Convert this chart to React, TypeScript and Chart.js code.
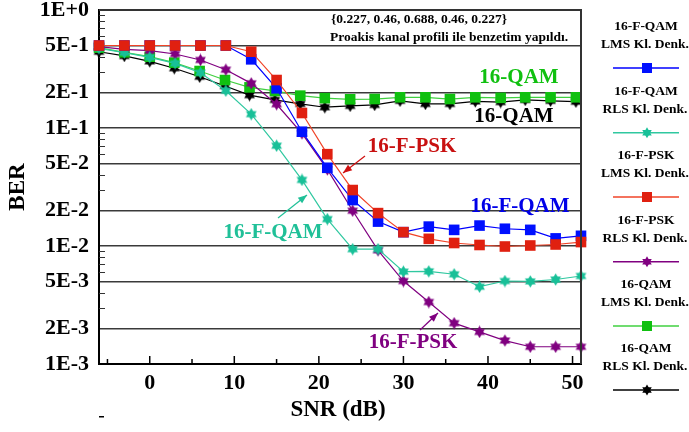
import React, { useEffect, useRef } from 'react';
import { Chart, registerables } from 'chart.js';
Chart.register(...registerables);

const snrA = [-6, -3, 0, 3, 6, 9, 12, 15, 18, 21, 24, 27, 30, 33, 36, 39, 42, 45, 48, 51];
const snrB = [-6, -3, 0, 2.9, 5.9, 8.9, 11.8, 14.8, 17.8, 20.7, 23.7, 26.6, 29.6, 32.6, 35.5, 38.5, 41.5, 44.4, 47.4, 50.4];

const fqamLms = [0.5, 0.5, 0.5, 0.5, 0.5, 0.5, 0.382, 0.217, 0.093, 0.046, 0.0245, 0.0161, 0.0131, 0.0146, 0.0137, 0.0149, 0.014, 0.0137, 0.0116, 0.0122];
const fqamRls = [0.473, 0.435, 0.397, 0.353, 0.294, 0.207, 0.131, 0.0708, 0.0363, 0.0169, 0.0094, 0.0094, 0.00606, 0.0061, 0.00576, 0.00452, 0.00505, 0.00501, 0.0052, 0.00557];
const fpskLms = [0.5, 0.5, 0.5, 0.5, 0.5, 0.5, 0.443, 0.255, 0.134, 0.06, 0.0298, 0.019, 0.0131, 0.0115, 0.0106, 0.0102, 0.0099, 0.0101, 0.0103, 0.0108];
const fpskRls = [0.49, 0.464, 0.452, 0.424, 0.377, 0.312, 0.239, 0.159, 0.09, 0.0446, 0.0199, 0.0092, 0.00505, 0.00335, 0.00222, 0.00187, 0.00158, 0.0014, 0.0014, 0.0014];
const qamLms = [0.48, 0.438, 0.402, 0.358, 0.304, 0.255, 0.221, 0.206, 0.188, 0.179, 0.175, 0.176, 0.182, 0.182, 0.176, 0.182, 0.18, 0.182, 0.182, 0.182];
const qamRls = [0.443, 0.408, 0.367, 0.321, 0.272, 0.227, 0.19, 0.173, 0.16, 0.15, 0.154, 0.157, 0.17, 0.16, 0.16, 0.168, 0.166, 0.173, 0.17, 0.167];

const yTicks = [1, 0.5, 0.2, 0.1, 0.05, 0.02, 0.01, 0.005, 0.002, 0.001];
const yTickLabels = ['1E+0', '5E-1', '2E-1', '1E-1', '5E-2', '2E-2', '1E-2', '5E-3', '2E-3', '1E-3'];
const yMinorTicks = [0.9, 0.8, 0.7, 0.6, 0.4, 0.3, 0.09, 0.08, 0.07, 0.06, 0.04, 0.03, 0.009, 0.008, 0.007, 0.006, 0.004, 0.003];
const xTicks = [0, 10, 20, 30, 40, 50];
const xMinorTicks = [-5, 5, 15, 25, 35, 45];

const legendTitles = ['16-F-QAM', '16-F-QAM', '16-F-PSK', '16-F-PSK', '16-QAM', '16-QAM'];
const legendSubs = ['LMS Kl. Denk.', 'RLS Kl. Denk.', 'LMS Kl. Denk.', 'RLS Kl. Denk.', 'LMS Kl. Denk.', 'RLS Kl. Denk.'];

const SERIF = '"Liberation Serif", "Times New Roman", serif';

type Spec = { x: number[]; y: number[]; line: string; mark: string; shape: 'sq' | 'star'; order: number };
const specs: Spec[] = [
  { x: snrA, y: fqamLms, line: '#0000ff', mark: '#0010ff', shape: 'sq', order: 1 },
  { x: snrA, y: fqamRls, line: '#30c8a0', mark: '#18c098', shape: 'star', order: 2 },
  { x: snrA, y: fpskLms, line: '#f04428', mark: '#e02010', shape: 'sq', order: 0 },
  { x: snrA, y: fpskRls, line: '#800080', mark: '#800080', shape: 'star', order: 3 },
  { x: snrB, y: qamLms, line: '#40d040', mark: '#10c010', shape: 'sq', order: 4 },
  { x: snrB, y: qamRls, line: '#000000', mark: '#000000', shape: 'star', order: 5 },
];

function drawHex(ctx: CanvasRenderingContext2D, cx: number, cy: number, r: number, color: string) {
  ctx.fillStyle = color;
  for (const off of [-90, 90]) {
    ctx.beginPath();
    for (let k = 0; k < 3; k++) {
      const a = ((off + k * 120) * Math.PI) / 180;
      const px = cx + r * Math.cos(a);
      const py = cy + r * Math.sin(a);
      if (k === 0) ctx.moveTo(px, py);
      else ctx.lineTo(px, py);
    }
    ctx.closePath();
    ctx.fill();
  }
}

function hexImage(color: string) {
  const c = document.createElement('canvas');
  c.width = 13;
  c.height = 13;
  const g = c.getContext('2d')!;
  drawHex(g, 6.5, 6.5, 6.2, color);
  return c;
}

function arrow(ctx: CanvasRenderingContext2D, x1: number, y1: number, x2: number, y2: number, color: string) {
  ctx.strokeStyle = color;
  ctx.fillStyle = color;
  ctx.lineWidth = 1.2;
  ctx.beginPath();
  ctx.moveTo(x1, y1);
  ctx.lineTo(x2, y2);
  ctx.stroke();
  const a = Math.atan2(y2 - y1, x2 - x1);
  const L = 9, W = 3.5;
  ctx.beginPath();
  ctx.moveTo(x2, y2);
  ctx.lineTo(x2 - L * Math.cos(a) + W * Math.sin(a), y2 - L * Math.sin(a) - W * Math.cos(a));
  ctx.lineTo(x2 - L * Math.cos(a) - W * Math.sin(a), y2 - L * Math.sin(a) + W * Math.cos(a));
  ctx.closePath();
  ctx.fill();
}

const overlay = {
  id: 'overlay',
  afterDraw(chart: any) {
    const ctx: CanvasRenderingContext2D = chart.ctx;
    const { left, right, top, bottom } = chart.chartArea;
    const xs = chart.scales.x;
    const ys = chart.scales.y;
    ctx.save();
    // top and right frame
    ctx.strokeStyle = '#333';
    ctx.lineWidth = 2;
    ctx.beginPath();
    ctx.moveTo(left, top);
    ctx.lineTo(right, top);
    ctx.lineTo(right, bottom);
    ctx.stroke();
    // x ticks
    ctx.strokeStyle = '#000';
    ctx.lineWidth = 1.5;
    for (const v of xTicks) {
      const px = xs.getPixelForValue(v);
      ctx.beginPath(); ctx.moveTo(px, bottom); ctx.lineTo(px, bottom - 8); ctx.stroke();
    }
    for (const v of xMinorTicks) {
      const px = xs.getPixelForValue(v);
      ctx.beginPath(); ctx.moveTo(px, bottom); ctx.lineTo(px, bottom - 5); ctx.stroke();
    }
    ctx.strokeStyle = '#333';
    ctx.lineWidth = 1;
    for (const v of yMinorTicks) {
      const py = Math.round(ys.getPixelForValue(v)) + 0.5;
      ctx.beginPath(); ctx.moveTo(left, py); ctx.lineTo(left + 6, py); ctx.stroke();
    }

    // axis titles
    ctx.fillStyle = '#000';
    ctx.font = `bold 23px ${SERIF}`;
    ctx.textAlign = 'center';
    ctx.textBaseline = 'middle';
    ctx.fillText('SNR (dB)', 338, 410);
    ctx.save();
    ctx.translate(18, 187);
    ctx.rotate(-Math.PI / 2);
    ctx.fillText('BER', 0, 0);
    ctx.restore();
    ctx.fillRect(99, 416, 5, 1.5);

    // note text
    ctx.font = `bold 13.5px ${SERIF}`;
    ctx.textAlign = 'left';
    ctx.fillText('{0.227, 0.46, 0.688, 0.46, 0.227}', 331, 20);
    ctx.fillText('Proakis kanal profili ile benzetim yapıldı.', 330, 38);

    // curve labels
    ctx.font = `bold 21px ${SERIF}`;
    ctx.textAlign = 'center';
    const labs: [string, number, number, string][] = [
      ['16-QAM', 519, 78, '#10c010'],
      ['16-QAM', 514, 117, '#000000'],
      ['16-F-PSK', 412, 147, '#c81010'],
      ['16-F-QAM', 520, 207, '#0000e8'],
      ['16-F-QAM', 273, 233, '#20c098'],
      ['16-F-PSK', 413, 343, '#800080'],
    ];
    for (const [t, x, y, c] of labs) {
      ctx.fillStyle = c;
      ctx.fillText(t, x, y);
    }
    arrow(ctx, 365, 156, 343, 173, '#d01010');
    arrow(ctx, 278, 218, 307, 195, '#20c098');
    arrow(ctx, 420, 330, 438, 313, '#800080');

    // legend
    const tops = [27, 91.7, 156, 220.7, 285, 349];
    for (let i = 0; i < specs.length; i++) {
      const s = specs[i];
      const ty = tops[i];
      ctx.fillStyle = '#000';
      ctx.font = `bold 13.5px ${SERIF}`;
      ctx.textAlign = 'center';
      ctx.fillText(legendTitles[i], 646, ty);
      ctx.fillText(legendSubs[i], 645, ty + 17.5);
      const ly = ty + 41;
      ctx.strokeStyle = s.line;
      ctx.lineWidth = 1.5;
      ctx.beginPath(); ctx.moveTo(613, ly); ctx.lineTo(679, ly); ctx.stroke();
      if (s.shape === 'sq') {
        ctx.fillStyle = s.mark;
        ctx.fillRect(647 - 5, ly - 5, 10, 10);
      } else {
        drawHex(ctx, 647, ly, 5.5, s.mark);
      }
    }
    ctx.restore();
  },
};

export default function App() {
  const ref = useRef<HTMLCanvasElement>(null);
  useEffect(() => {
    document.body.style.margin = '0';
    const datasets = specs.map((s) => ({
      data: s.x.map((x, i) => ({ x, y: s.y[i] })),
      borderColor: s.line,
      backgroundColor: s.mark,
      borderWidth: 1.2,
      pointStyle: s.shape === 'sq' ? 'rect' : (hexImage(s.mark) as any),
      pointRadius: s.shape === 'sq' ? 7.5 : 6,
      pointBackgroundColor: s.mark,
      pointBorderColor: s.mark,
      pointBorderWidth: 0,
      order: s.order,
      clip: false as any,
      tension: 0,
    }));
    const chart = new Chart(ref.current!, {
      type: 'line',
      data: { datasets },
      plugins: [overlay],
      options: {
        animation: false,
        responsive: false,
        events: [],
        layout: { padding: { top: 10, right: 108, left: 0, bottom: 0 } },
        plugins: { legend: { display: false }, tooltip: { enabled: false }, title: { display: false } },
        scales: {
          x: {
            type: 'linear',
            min: -6,
            max: 51,
            afterBuildTicks: (sc: any) => { sc.ticks = xTicks.map((v) => ({ value: v })); },
            afterFit: (sc: any) => { sc.height = 68; sc.paddingLeft = 0; sc.paddingRight = 0; },
            grid: { display: false, drawTicks: false },
            border: { display: true, color: '#000', width: 2 },
            ticks: { color: '#000', padding: 6, maxRotation: 0, font: { family: SERIF, size: 22, weight: 'bold' } },
          },
          y: {
            type: 'logarithmic',
            min: 0.001,
            max: 1,
            afterBuildTicks: (sc: any) => { sc.ticks = yTicks.map((v) => ({ value: v })); },
            afterFit: (sc: any) => { sc.width = 99; sc.paddingTop = 0; sc.paddingBottom = 0; },
            grid: { color: '#3a3a3a', lineWidth: 1.5, drawTicks: false },
            border: { display: true, color: '#000', width: 2 },
            ticks: {
              color: '#000',
              padding: 10,
              font: { family: SERIF, size: 22, weight: 'bold' },
              callback: (v: any) => {
                const idx = yTicks.findIndex((t) => Math.abs(t - v) / t < 1e-6);
                return idx >= 0 ? yTickLabels[idx] : '';
              },
            },
          },
        },
      } as any,
    });
    return () => chart.destroy();
  }, []);
  return (
    <div style={{ width: 689, height: 432 }}>
      <canvas ref={ref} width={689} height={432} style={{ display: 'block' }} />
    </div>
  );
}
